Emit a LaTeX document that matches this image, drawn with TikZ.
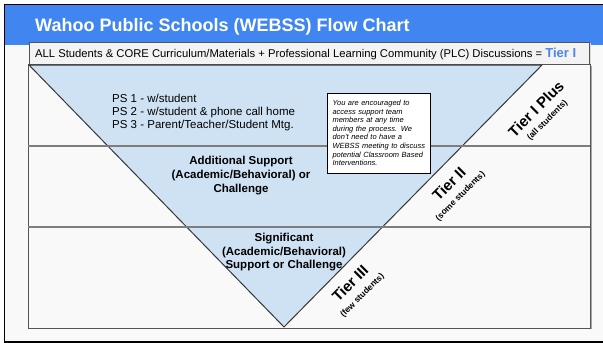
\documentclass[tikz,border=0pt]{standalone}
\usepackage{fontspec}
\setmainfont{Liberation Sans}
\definecolor{headblue}{RGB}{64,133,240}
\definecolor{tierblue}{RGB}{74,134,232}
\definecolor{paleblue}{RGB}{207,226,243}
\definecolor{pagegrey}{RGB}{249,249,249}
\definecolor{bargrey}{RGB}{243,243,243}
\definecolor{edgegrey}{RGB}{85,85,85}
\definecolor{rulegrey}{RGB}{125,125,125}

\begin{document}
\begin{tikzpicture}[x=1pt,y=1pt,yscale=-1,xscale=1,
	tiername/.style={font=\fontsize{15}{17}\selectfont\bfseries, inner sep=0.5pt, rotate=45},
	tiernote/.style={font=\fontsize{8.5}{9}\selectfont\bfseries, inner sep=0.5pt, rotate=45},
	levelbox/.style={font=\fontsize{11.5}{14}\selectfont\bfseries, align=center, inner sep=0.75pt},
	notebox/.style={draw=black, fill=white, line width=0.6pt, text width=93pt, minimum height=80pt, inner xsep=5pt, align=left, font=\fontsize{7.5}{8.6}\selectfont\itshape}]
	\useasboundingbox (0,0) rectangle (603,343);
	\fill[white] (0,0) rectangle (603,343);
	\fill[black] (3.5,3.5) rectangle (603,343);
	\fill[pagegrey] (5,5) rectangle (603,340.5);
	% header
	\fill[headblue] (5,5) rectangle (603,45);
	\node[anchor=base west, text=white, inner sep=0pt, font=\fontsize{18}{21}\selectfont\bfseries] (title) at (35,31) {Wahoo Public Schools (WEBSS) Flow Chart};
	% tier I bar
	\fill[black!15] (30,43) rectangle (591,66);
	\draw[edgegrey, fill=bargrey] (29,42) rectangle (589,64);
	\node[anchor=base west, inner sep=0pt, font=\fontsize{11.25}{12}\selectfont] (core) at (35,57.5) {ALL Students \& CORE Curriculum/Materials + Professional Learning Community (PLC) Discussions = \textcolor{tierblue}{\fontsize{13}{14}\selectfont\bfseries Tier I}};
	% main box
	\draw[black!35, line width=1.5pt] (591,66) -- (591,329);
	\draw[edgegrey, fill=pagegrey] (28,64) rectangle (590,328);
	\coordinate (tl) at (29,65);
	\coordinate (tr) at (542,65);
	\coordinate (apex) at (284,327);
	\draw[fill=paleblue, draw={rgb,255:red,55;green,55;blue,55}, line width=1pt] (tl) -- (tr) -- (apex) -- cycle;
	\draw[rulegrey, line width=1.2pt] (28,146) -- (590,146);
	\draw[rulegrey, line width=1.2pt] (28,227) -- (590,227);
	% levels
	\node[anchor=west, align=left, inner sep=0pt, font=\fontsize{11.5}{13}\selectfont] (ps) at (112,113) {PS 1 - w/student\\PS 2 - w/student \& phone call home\\PS 3 - Parent/Teacher/Student Mtg.};
	\node[levelbox] (extra) at (241,176) {Additional Support\\(Academic/Behavioral) or\\Challenge};
	\node[levelbox, font=\fontsize{11.5}{13.5}\selectfont\bfseries] (sig) at (284,252.5) {Significant\\(Academic/Behavioral)\\Support or Challenge};
	\node[notebox] (note) at (379,133) {You are encouraged to\\access support team\\members at any time\\during the process. We\\don't need to have a\\WEBSS meeting to discuss\\potential Classroom Based\\Interventions.};
	% tiers
	\node[tiername] (plus) at (536,109) {Tier I Plus};
	\node[tiernote] (plusn) at (547.5,120.5) {(all students)};
	\node[tiername] (two) at (449,184) {Tier II};
	\node[tiernote] (twon) at (460.5,196.5) {(some students)};
	\node[tiername] (three) at (350,283) {Tier III};
	\node[tiernote] (threen) at (362.5,295.5) {(few students)};
\end{tikzpicture}
\end{document}
